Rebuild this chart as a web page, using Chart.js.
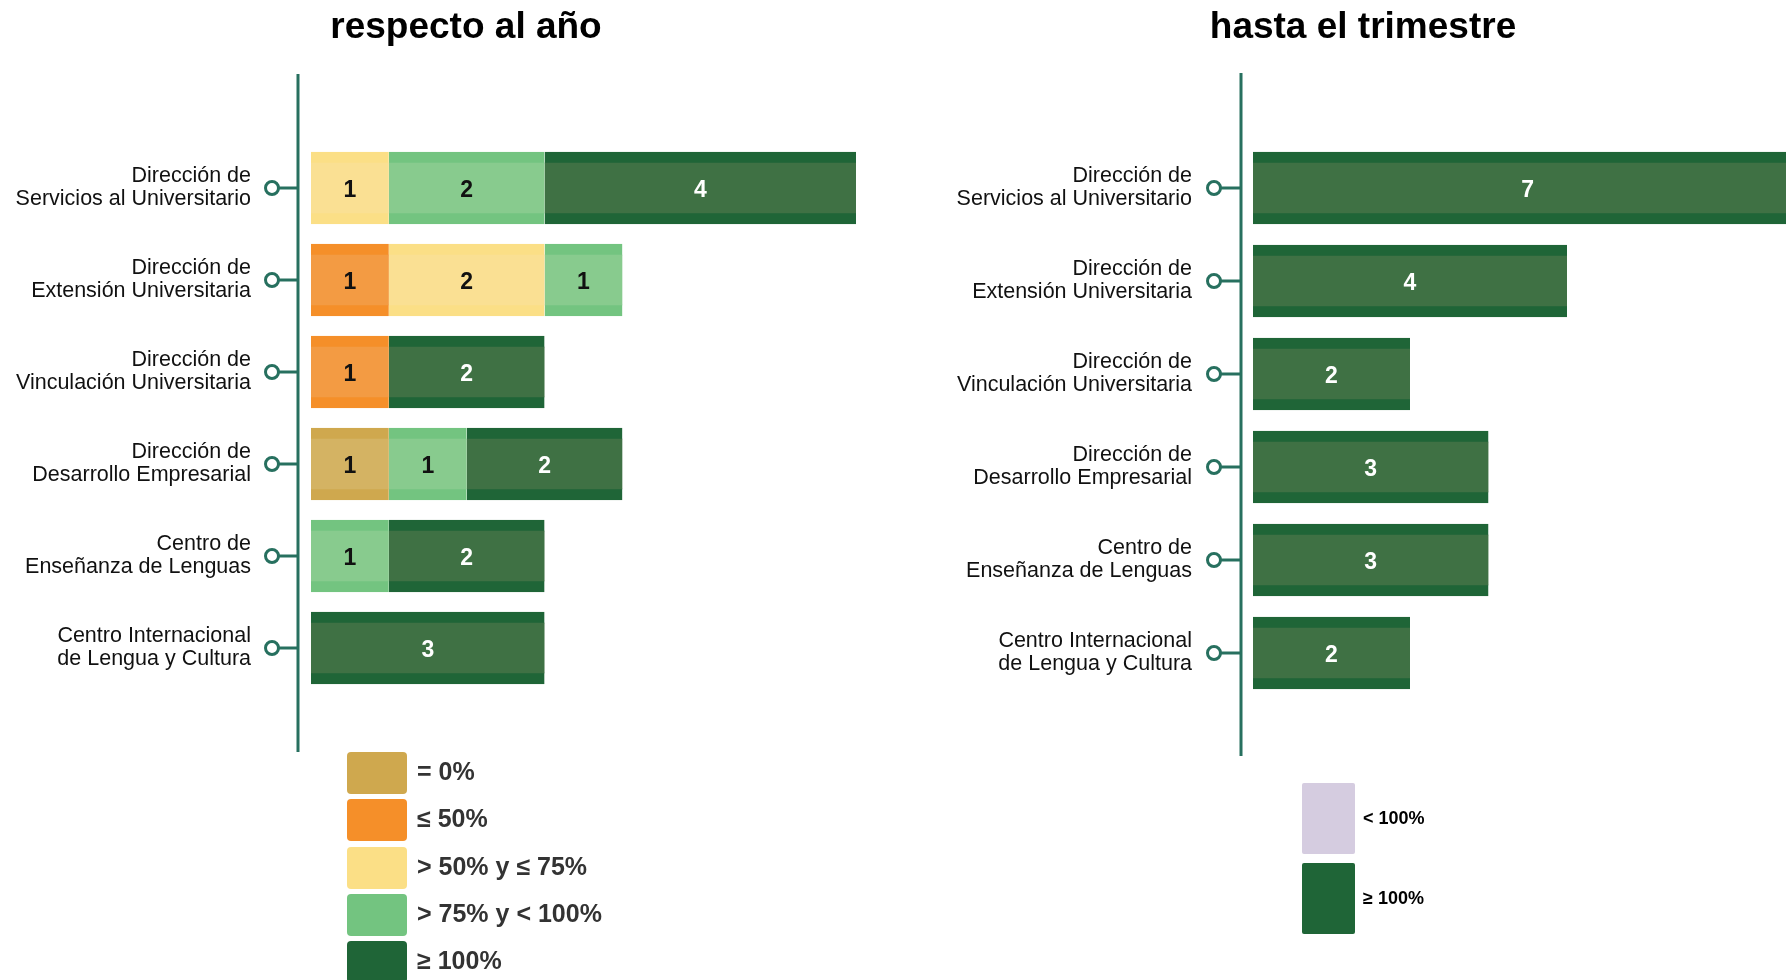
<!DOCTYPE html>
<html>
<head>
<meta charset="utf-8">
<script src="https://cdn.jsdelivr.net/npm/chart.js@4.4.1/dist/chart.umd.min.js"></script>
<style>
  html, body { margin: 0; padding: 0; background: #fff; overflow: hidden; width: 1786px; height: 980px; }
  canvas { position: absolute; top: 0; }
  #yearChart { left: 0; }
  #quarterChart { left: 896px; }
  .legend { position: absolute; font-family: "Liberation Sans", Arial, sans-serif; }
  .legend .item { position: absolute; left: 0; }
  .legend .box { position: absolute; left: 0; top: 0; }
  .legend .txt { position: absolute; white-space: nowrap; }
</style>
</head>
<body>
<canvas id="yearChart" width="932" height="980"></canvas>
<canvas id="quarterChart" width="934" height="980"></canvas>
<div id="yearLegend" class="legend" style="left:347px;top:752px;"></div>
<div id="quarterLegend" class="legend" style="left:1302px;top:783px;"></div>

<script>
const categories = [
  ["Dirección de", "Servicios al Universitario"],
  ["Dirección de", "Extensión Universitaria"],
  ["Dirección de", "Vinculación Universitaria"],
  ["Dirección de", "Desarrollo Empresarial"],
  ["Centro de", "Enseñanza de Lenguas"],
  ["Centro Internacional", "de Lengua y Cultura"]
];

// respecto al año
const yearLabels = ["= 0%", "≤ 50%", "> 50% y ≤ 75%", "> 75% y < 100%", "≥ 100%"];
const yearZero    = [0, 0, 0, 1, 0, 0];
const yearUpTo50  = [0, 1, 1, 0, 0, 0];
const year50to75  = [1, 2, 0, 0, 0, 0];
const year75to100 = [2, 1, 0, 1, 1, 0];
const yearFull    = [4, 0, 2, 2, 2, 3];

// hasta el trimestre
const quarterLabels = ["< 100%", "≥ 100%"];
const quarterBelow = [0, 0, 0, 0, 0, 0];
const quarterFull  = [7, 4, 2, 3, 3, 2];

const FONT = '"Liberation Sans", Arial, sans-serif';
const TEAL = "#27705f";

function makeSet(label, data, strip, fill, textColor) {
  return {
    label: label,
    data: data,
    backgroundColor: fill,
    borderColor: strip,
    borderWidth: { top: 11, bottom: 11, left: 0, right: 0 },
    borderSkipped: false,
    barThickness: 72,
    textColor: textColor
  };
}

// value numbers in the middle of each segment
const valueLabels = {
  id: "valueLabels",
  afterDatasetsDraw(chart) {
    const ctx = chart.ctx;
    ctx.save();
    ctx.font = "bold 23px " + FONT;
    ctx.textAlign = "center";
    ctx.textBaseline = "middle";
    chart.data.datasets.forEach((ds, i) => {
      chart.getDatasetMeta(i).data.forEach((bar, j) => {
        const v = ds.data[j];
        if (!v) return;
        ctx.fillStyle = ds.textColor;
        ctx.fillText(String(v), (bar.x + bar.base) / 2, bar.y + 3);
      });
    });
    ctx.restore();
  }
};

// vertical teal spine with a ring on every category
const spine = {
  id: "spine",
  beforeDatasetsDraw(chart, args, o) {
    const { ctx, chartArea } = chart;
    const y = chart.scales.y;
    const ax = chartArea.left - o.gap;
    const cx = chartArea.left - o.dot;
    ctx.save();
    ctx.strokeStyle = TEAL;
    ctx.lineWidth = 3;
    ctx.beginPath();
    ctx.moveTo(ax, chartArea.top - o.above);
    ctx.lineTo(ax, chartArea.bottom + o.below);
    ctx.stroke();
    y.ticks.forEach((t, i) => {
      const py = y.getPixelForTick(i);
      ctx.beginPath();
      ctx.moveTo(cx + 6, py);
      ctx.lineTo(ax, py);
      ctx.stroke();
      ctx.beginPath();
      ctx.arc(cx, py, 6.5, 0, Math.PI * 2);
      ctx.fillStyle = "#fff";
      ctx.fill();
      ctx.stroke();
    });
    ctx.restore();
  }
};

function options(title, titleBottom, padBottom, axisWidth, rightWidth, tickPad, spineOpts) {
  return {
    responsive: false,
    animation: false,
    indexAxis: "y",
    layout: { padding: { left: 0, right: 0, top: 0, bottom: padBottom } },
    plugins: {
      legend: { display: false },
      tooltip: { enabled: false },
      title: {
        display: true,
        text: title,
        color: "#000",
        font: { family: FONT, size: 37, weight: "bold" },
        padding: { top: 6, bottom: titleBottom }
      },
      spine: spineOpts
    },
    scales: {
      x: { stacked: true, display: false, min: 0, max: 7 },
      y: {
        stacked: true,
        grid: { display: false, drawTicks: false },
        border: { display: false },
        ticks: { color: "#111", padding: tickPad, font: { family: FONT, size: 21.5, lineHeight: 1.07 } },
        afterFit: (scale) => { scale.width = axisWidth; }
      },
      // empty right-hand box, keeps the title centred on the whole panel
      yRight: {
        type: "linear",
        position: "right",
        grid: { display: false, drawTicks: false },
        border: { display: false },
        ticks: { display: false },
        afterFit: (scale) => { scale.width = rightWidth; }
      }
    }
  };
}

const yearChart = new Chart(document.getElementById("yearChart"), {
  type: "bar",
  data: {
    labels: categories,
    datasets: [
      makeSet(yearLabels[0], yearZero,    "#cfa84e", "#d4b363", "#111"),
      makeSet(yearLabels[1], yearUpTo50,  "#f58f29", "#f39b43", "#111"),
      makeSet(yearLabels[2], year50to75,  "#fbdf86", "#fae093", "#111"),
      makeSet(yearLabels[3], year75to100, "#73c480", "#88cb8e", "#111"),
      makeSet(yearLabels[4], yearFull,    "#1f6537", "#3f7144", "#fff")
    ]
  },
  options: options("respecto al año", 91.6, 286, 311, 76, 60,
    { gap: 13, dot: 39, above: 68, below: 58 }),
  plugins: [spine, valueLabels]
});

const quarterChart = new Chart(document.getElementById("quarterChart"), {
  type: "bar",
  data: {
    labels: categories,
    datasets: [
      makeSet(quarterLabels[0], quarterBelow, "#d5cce0", "#d5cce0", "#111"),
      makeSet(quarterLabels[1], quarterFull,  "#1f6537", "#3f7144", "#fff")
    ]
  },
  options: options("hasta el trimestre", 91.1, 280.5, 357, 27.5, 61,
    { gap: 12, dot: 39, above: 68.5, below: 56.5 }),
  plugins: [spine, valueLabels]
});

function buildLegend(chart, el, s) {
  chart.data.datasets.forEach((ds, i) => {
    const item = document.createElement("div");
    item.className = "item";
    item.style.top = (i * s.pitch) + "px";
    const box = document.createElement("div");
    box.className = "box";
    box.style.width = s.w + "px";
    box.style.height = s.h + "px";
    box.style.borderRadius = s.radius + "px";
    box.style.background = ds.borderColor;
    const txt = document.createElement("div");
    txt.className = "txt";
    txt.textContent = ds.label;
    txt.style.font = s.font;
    txt.style.color = s.color;
    txt.style.left = s.textX + "px";
    txt.style.top = s.textDy + "px";
    txt.style.lineHeight = s.h + "px";
    item.appendChild(box);
    item.appendChild(txt);
    el.appendChild(item);
  });
}

buildLegend(yearChart, document.getElementById("yearLegend"),
  { pitch: 47.3, w: 60, h: 42, radius: 4, textX: 70, textDy: -2, font: "bold 25px " + FONT, color: "#333" });
buildLegend(quarterChart, document.getElementById("quarterLegend"),
  { pitch: 80, w: 53, h: 71, radius: 2, textX: 61, textDy: 0, font: "bold 18px " + FONT, color: "#000" });
</script>
</body>
</html>
